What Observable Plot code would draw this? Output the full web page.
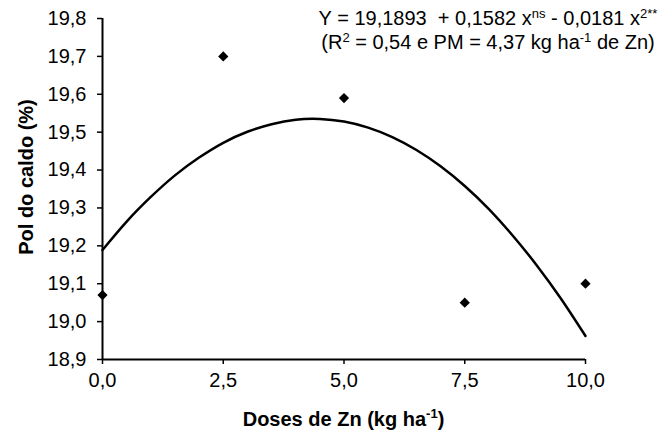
<!DOCTYPE html>
<html>
<head>
<meta charset="utf-8">
<script src="https://cdn.jsdelivr.net/npm/d3@7"></script>
<script src="https://cdn.jsdelivr.net/npm/@observablehq/plot@0.6"></script>
<style>
  html, body { margin: 0; padding: 0; background: #fff; }
  #chart svg { display: block; }
</style>
</head>
<body>
<div id="chart"></div>
<script>
// Observed points
const doses = [0, 2.5, 5, 7.5, 10];
const pol = [19.07, 19.70, 19.59, 19.05, 19.10];

// Fitted curve
const curveX = [0, 0.5, 1, 1.5, 2, 2.5, 3, 3.5, 4, 4.5, 5, 5.5, 6, 6.5, 7, 7.5, 8, 8.5, 9, 9.5, 10];
const curveY = [19.189, 19.264, 19.329, 19.386, 19.433, 19.472, 19.501, 19.521, 19.533, 19.535, 19.528, 19.512, 19.487, 19.453, 19.410, 19.358, 19.297, 19.226, 19.147, 19.059, 18.962];

// Tick values
const xTicks = [0, 2.5, 5, 7.5, 10];
const yTicks = [18.9, 19.0, 19.1, 19.2, 19.3, 19.4, 19.5, 19.6, 19.7, 19.8];

const points = doses.map((d, i) => ({x: d, y: pol[i]}));
const curve = curveX.map((d, i) => ({x: d, y: curveY[i]}));
const fmt = v => d3.format(".1f")(v).replace(".", ",");

const W = 666, H = 435;
const ML = 102, MR = 81, MT = 18, MB = 76;
const FONT = "'Liberation Sans', Arial, sans-serif";

const chart = Plot.plot({
  width: W,
  height: H,
  marginLeft: ML,
  marginRight: MR,
  marginTop: MT,
  marginBottom: MB,
  style: {fontFamily: FONT, fontSize: "20px", color: "#000", background: "#fff", overflow: "visible"},
  x: {domain: [0, 10]},
  y: {domain: [18.9, 19.8]},
  marks: [
    Plot.axisX({ticks: xTicks, tickFormat: fmt, tickSize: 5, tickPadding: 8, label: null, stroke: "#000", strokeWidth: 1.5, fontSize: 20}),
    Plot.axisY({ticks: yTicks, tickFormat: fmt, tickSize: 5, tickPadding: 11, label: null, stroke: "#000", strokeWidth: 1.5, fontSize: 20}),
    Plot.ruleX([0], {stroke: "#000", strokeWidth: 2}),
    Plot.ruleY([18.9], {stroke: "#000", strokeWidth: 2}),
    Plot.line(curve, {x: "x", y: "y", stroke: "#000", strokeWidth: 2.5, curve: "natural"}),
    Plot.dot(points, {x: "x", y: "y", symbol: "diamond2", r: 4.6, fill: "#000", stroke: "none"})
  ]
});

document.getElementById("chart").appendChild(chart);

const svg = d3.select(chart);

// Y axis title
svg.append("text")
  .attr("transform", `translate(33, 177) rotate(-90)`)
  .attr("text-anchor", "middle")
  .attr("font-family", FONT)
  .attr("font-weight", "bold")
  .attr("font-size", 20)
  .attr("fill", "#000")
  .text("Pol do caldo (%)");

// X axis title
const xt = svg.append("text")
  .attr("x", (ML + W - MR) / 2)
  .attr("y", 426)
  .attr("text-anchor", "middle")
  .attr("font-family", FONT)
  .attr("font-weight", "bold")
  .attr("font-size", 20)
  .attr("fill", "#000");
xt.append("tspan").text("Doses de Zn (kg ha");
xt.append("tspan").attr("font-size", 13).attr("dy", -8).text("-1");
xt.append("tspan").attr("dy", 8).text(")");

// Equation
const eqX = 488;
const e1 = svg.append("text")
  .attr("x", eqX).attr("y", 25)
  .attr("text-anchor", "middle")
  .attr("font-family", FONT)
  .attr("font-size", 20)
  .attr("fill", "#000")
  .attr("xml:space", "preserve");
e1.append("tspan").text("Y = 19,1893  + 0,1582 x");
e1.append("tspan").attr("font-size", 13).attr("dy", -7).text("ns");
e1.append("tspan").attr("dy", 7).text(" - 0,0181 x");
e1.append("tspan").attr("font-size", 13).attr("dy", -7).text("2**");

const e2 = svg.append("text")
  .attr("x", eqX).attr("y", 49)
  .attr("text-anchor", "middle")
  .attr("font-family", FONT)
  .attr("font-size", 20)
  .attr("fill", "#000");
e2.append("tspan").text("(R");
e2.append("tspan").attr("font-size", 13).attr("dy", -7).text("2");
e2.append("tspan").attr("dy", 7).text(" = 0,54 e PM = 4,37 kg ha");
e2.append("tspan").attr("font-size", 13).attr("dy", -7).text("-1");
e2.append("tspan").attr("dy", 7).text(" de Zn)");
</script>
</body>
</html>
